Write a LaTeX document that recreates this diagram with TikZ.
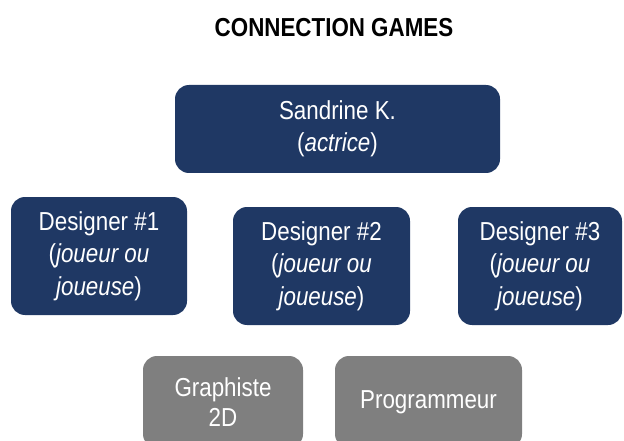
\documentclass[tikz,border=0pt]{standalone}
\usepackage{fontspec}
\setmainfont{Liberation Sans}[FakeStretch=0.86]
\definecolor{navy}{RGB}{31,56,100}
\definecolor{greybox}{RGB}{127,127,127}
\begin{document}
\begin{tikzpicture}[
    x=1pt, y=-1pt,
    rolebox/.style={draw=none, fill=navy, rounded corners=14pt, inner sep=0pt,
        minimum height=118pt, align=center, text=white,
        font=\fontsize{26}{32.5}\selectfont},
    staffbox/.style={draw=none, fill=greybox, rounded corners=14pt, inner sep=0pt,
        minimum height=92pt, align=center, text=white,
        font=\fontsize{26}{30}\selectfont},
    titlelabel/.style={font=\fontsize{26}{30}\selectfont\bfseries}
]
\useasboundingbox (0,0) rectangle (624,441);
\clip (0,0) rectangle (624,441);

\node[titlelabel] (title) at (334,28) {CONNECTION GAMES};

\node[rolebox, minimum width=325pt, minimum height=88pt] (actrice) at (337.5,129)
    {Sandrine K.\\(\textit{actrice})};

\node[rolebox, minimum width=176pt] (designer1) at (99,256)
    {Designer \#1\\(\textit{joueur ou}\\\textit{joueuse})};
\node[rolebox, minimum width=177pt] (designer2) at (321.5,266)
    {Designer \#2\\(\textit{joueur ou}\\\textit{joueuse})};
\node[rolebox, minimum width=164pt] (designer3) at (540,266)
    {Designer \#3\\(\textit{joueur ou}\\\textit{joueuse})};

% equipe technique
\node[staffbox, minimum width=160pt] (graphiste) at (223,402)
    {Graphiste\\2D};
\node[staffbox, minimum width=187pt] (programmeur) at (428.5,402)
    {Programmeur};

\end{tikzpicture}
\end{document}
